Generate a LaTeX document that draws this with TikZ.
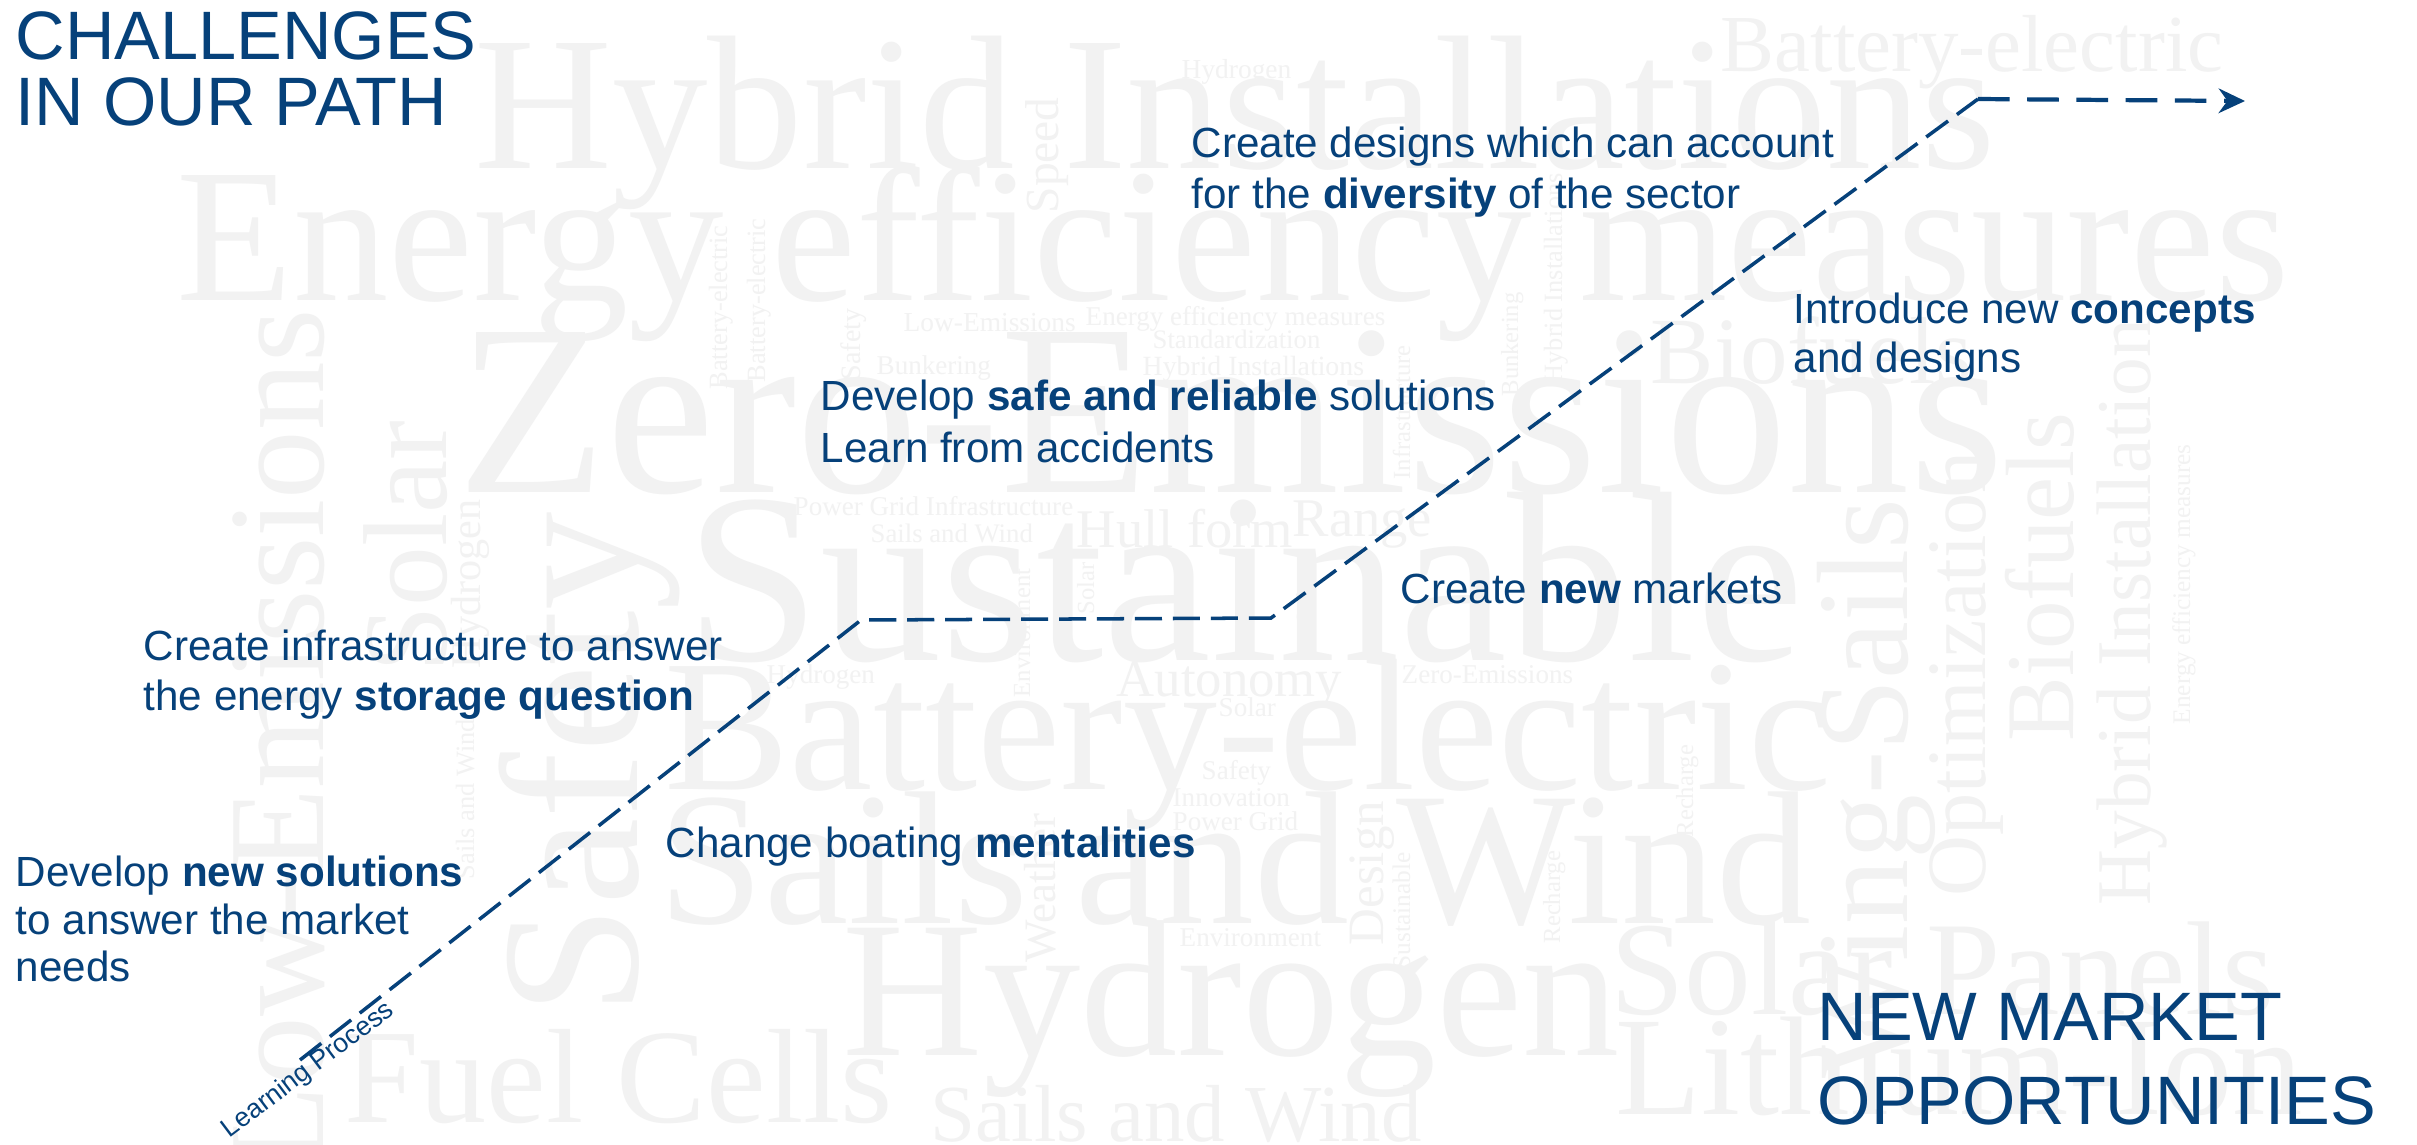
\documentclass[tikz,border=0pt]{standalone}
\usepackage{fontspec}
\setmainfont{Liberation Sans}
\newfontfamily\bgfont{Liberation Serif}
\usetikzlibrary{arrows.meta}
\definecolor{mainblue}{RGB}{6,65,122}
\definecolor{bgw}{RGB}{242,242,242}
\newcommand\fsz[1]{\fontsize{#1}{#1}\selectfont}
\newcommand\bgf[1]{\bgfont\fontsize{#1}{#1}\selectfont}
\begin{document}
\begin{tikzpicture}[x=0.1mm, y=-0.1mm,
  bg/.style={text=bgw, inner sep=0, anchor=base west},
  bge/.style={text=bgw, inner sep=0, anchor=base east, rotate=90},
  bgr/.style={text=bgw, inner sep=0, anchor=base west, rotate=90},
  txt/.style={font=\fsz{12}, text=mainblue, inner sep=0, anchor=base west},
  ttl/.style={font=\fsz{19.5}, text=mainblue, inner sep=0, anchor=base west},
  pathline/.style={draw=mainblue, line width=1pt, dash pattern=on 7.7pt off 3.1pt},
  arrowline/.style={draw=mainblue, line width=1.2pt, dash pattern=on 9pt off 5pt,
    -{Stealth[length=7.5pt,width=7pt,inset=2.5pt]}}]
\fill[white] (0,0) rectangle (2417,1144);
\useasboundingbox (0,0) rectangle (2417,1144);
% ---- background word cloud ----
\node[bg, font=\bgf{54.3}] (w1) at (474,168) {Hybrid Installations};
\node[bg, font=\bgf{54.3}] (w2) at (176,300) {Energy efficiency measures};
\node[bg, font=\bgf{69.5}] (w3) at (457,492) {Zero-Emissions};
\node[bg, font=\bgf{69}] (w4) at (685,660) {Sustainable};
\node[bg, font=\bgf{53.4}] (w5) at (664,789) {Battery-electric};
\node[bg, font=\bgf{54}] (w6) at (658,923) {Sails and Wind};
\node[bg, font=\bgf{55.3}] (w7) at (842,1055) {Hydrogen};
\node[bg, font=\bgf{38.2}] (w8) at (344,1122) {Fuel Cells};
\node[bg, font=\bgf{23}] (w9) at (930,1141) {Sails and Wind};
\node[bg, font=\bgf{38}] (w10) at (1610,1014) {Solar Panels};
\node[bg, font=\bgf{40}] (w11) at (1615,1114) {Lithium-Ion};
\node[bg, font=\bgf{23}] (w12) at (1720,71) {Battery-electric};
\node[bg, font=\bgf{27}] (w13) at (1650,383) {Biofuels};
\node[bg, font=\bgf{15}] (w14) at (1116,696) {Autonomy};
\node[bg, font=\bgf{15.5}] (w15) at (1076,547) {Hull form};
\node[bg, font=\bgf{15.5}] (w16) at (1292,536) {Range};
\node[bg, font=\bgf{7.8}] (w17) at (903,331) {Low-Emissions};
\node[bg, font=\bgf{7.7}] (w18) at (1085,325) {Energy efficiency measures};
\node[bg, font=\bgf{7.6}] (w19) at (1152,348) {Standardization};
\node[bg, font=\bgf{7.9}] (w20) at (1142,375) {Hybrid Installations};
\node[bg, font=\bgf{7.7}] (w21) at (876,374) {Bunkering};
\node[bg, font=\bgf{7.7}] (w22) at (793,515) {Power Grid Infrastructure};
\node[bg, font=\bgf{7.6}] (w23) at (870,542) {Sails and Wind};
\node[bg, font=\bgf{7.7}] (w24) at (766,683) {Hydrogen};
\node[bg, font=\bgf{7.8}] (w25) at (1181,78) {Hydrogen};
\node[bg, font=\bgf{7.7}] (w26) at (1401,683) {Zero-Emissions};
\node[bg, font=\bgf{7.7}] (w27) at (1218,716) {Solar};
\node[bg, font=\bgf{7.7}] (w28) at (1201,779) {Safety};
\node[bg, font=\bgf{7.7}] (w29) at (1172,806) {Innovation};
\node[bg, font=\bgf{7.7}] (w30) at (1172,830) {Power Grid};
\node[bg, font=\bgf{7.7}] (w31) at (1179,946) {Environment};
\node[bge, font=\bgf{39}] (r1) at (323,308) {Low-Emissions};
\node[bge, font=\bgf{34}] (r2) at (446,420) {Solar};
\node[bgr, font=\bgf{56}] (r3) at (637,1016) {Safety};
\node[bge, font=\bgf{37}] (r4) at (1907,498) {Wing-Sails};
\node[bgr, font=\bgf{24}] (r5) at (1985,897) {Optimization};
\node[bgr, font=\bgf{27.6}] (r6) at (2073,742) {Biofuels};
\node[bgr, font=\bgf{22}] (r7) at (2150,906) {Hybrid Installation};
\node[bgr, font=\bgf{7.2}] (r8) at (2190,725) {Energy efficiency measures};
\node[bgr, font=\bgf{13.5}] (r9) at (1058,214) {Speed};
\node[bgr, font=\bgf{7.5}] (r10) at (727,390) {Battery-electric};
\node[bgr, font=\bgf{7.5}] (r11) at (765,383) {Battery-electric};
\node[bgr, font=\bgf{8}] (r12) at (860,381) {Safety};
\node[bgr, font=\bgf{12}] (r13) at (480,669) {Hydrogen};
\node[bgr, font=\bgf{7.5}] (r14) at (474,880) {Sails and Wind};
\node[bgr, font=\bgf{7.5}] (r15) at (1562,384) {Hybrid Installations};
\node[bgr, font=\bgf{7}] (r16) at (1518,397) {Bunkering};
\node[bgr, font=\bgf{7}] (r17) at (1410,480) {Infrastructure};
\node[bgr, font=\bgf{7}] (r18) at (1030,698) {Environment};
\node[bgr, font=\bgf{7}] (r19) at (1094,615) {Solar};
\node[bgr, font=\bgf{7}] (r20) at (1313,625) {Solar};
\node[bgr, font=\bgf{12.8}] (r21) at (1055,963) {Weather};
\node[bgr, font=\bgf{14.5}] (r22) at (1383,946) {Design};
\node[bgr, font=\bgf{7.2}] (r23) at (1410,970) {Sustainable};
\node[bgr, font=\bgf{7}] (r24) at (1560,944) {Recharge};
\node[bgr, font=\bgf{7}] (r25) at (1693,838) {Recharge};
% ---- learning path ----
\coordinate (s0) at (300,1060);
\coordinate (c1) at (861,620);
\coordinate (c2) at (1271,618);
\coordinate (c3) at (1978,99);
\coordinate (tip) at (2245,101);
\draw[pathline] (s0) -- (c1) -- (c2) -- (c3);
\draw[arrowline] (c3) -- (tip);
\node[text=mainblue, font=\fsz{7.6}, inner sep=0, anchor=base west, rotate=37] (lp) at (229,1139) {Learning Process};
% ---- titles ----
\node[ttl] (t1a) at (15,59) {CHALLENGES};
\node[ttl] (t1b) at (15,125) {IN OUR PATH};
\node[ttl] (t2a) at (1817,1040) {NEW MARKET};
\node[ttl] (t2b) at (1817,1124) {OPPORTUNITIES};
% ---- step texts ----
\node[txt] (a1) at (15,886) {Develop \textbf{new solutions}};
\node[txt] (a2) at (15,934) {to answer the market};
\node[txt] (a3) at (15,981) {needs};
\node[txt] (b1) at (143,660) {Create infrastructure to answer};
\node[txt] (b2) at (143,710) {the energy \textbf{storage question}};
\node[txt] (c0) at (665,857) {Change boating \textbf{mentalities}};
\node[txt] (d1) at (820,410) {Develop \textbf{safe and reliable} solutions};
\node[txt] (d2) at (820,462) {Learn from accidents};
\node[txt] (e0) at (1400,603) {Create \textbf{new} markets};
\node[txt] (f1) at (1191,157) {Create designs which can account};
\node[txt] (f2) at (1191,208) {for the \textbf{diversity} of the sector};
\node[txt] (g1) at (1793,323) {Introduce new \textbf{concepts}};
\node[txt] (g2) at (1793,372) {and designs};
\end{tikzpicture}
\end{document}
